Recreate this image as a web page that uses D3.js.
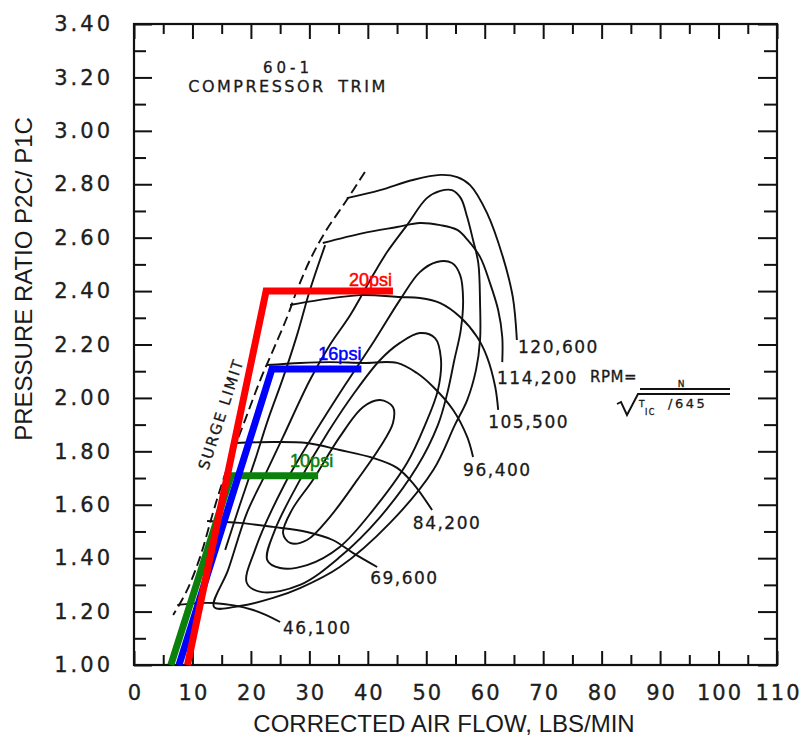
<!DOCTYPE html>
<html>
<head>
<meta charset="utf-8">
<script src="https://cdn.jsdelivr.net/npm/d3@7"></script>
<style>
  body { margin: 0; background: #fff; }
  svg { display: block; }
  .tick text { font-family: "DejaVu Sans", sans-serif; fill: #1e1e1e; stroke: #1e1e1e; stroke-width: 0.35; }
  .tick line { stroke: #111; stroke-width: 2; }
  .map { fill: none; stroke: #111; stroke-width: 1.9; }
  .scan { font-family: "DejaVu Sans", sans-serif; fill: #1a1a1a; stroke: #1a1a1a; stroke-width: 0.3; }
  .title { font-family: "Liberation Sans", Arial, sans-serif; font-size: 24px; fill: #1a1a1a; }
</style>
</head>
<body>
<div id="chart"></div>
<script>
'use strict';

// axis ticks
const xMajor = [0, 10, 20, 30, 40, 50, 60, 70, 80, 90, 100, 110];
const xMinor = [5, 15, 25, 35, 45, 55, 65, 75, 85, 95, 105];
const yMajor = [1.0, 1.2, 1.4, 1.6, 1.8, 2.0, 2.2, 2.4, 2.6, 2.8, 3.0, 3.2, 3.4];
const yMinor = [1.1, 1.3, 1.5, 1.7, 1.9, 2.1, 2.3, 2.5, 2.7, 2.9, 3.1, 3.3];

// surge limit, [flow lbs/min, pressure ratio]
const surgeLine = [[39.5, 2.846], [36.4, 2.741], [32.7, 2.621], [30.1, 2.516], [27.9, 2.404],
    [26.2, 2.303], [23.8, 2.179], [21.6, 2.067], [19.0, 1.917], [16.4, 1.767], [14.7, 1.655],
    [13.5, 1.569], [11.3, 1.404], [9.1, 1.281], [6.7, 1.187]];

// speed lines
const rpmNames = ['46,100', '69,600', '84,200', '96,400', '105,500', '114,200', '120,600'];
const speed46 = [[7.4, 1.225], [13.5, 1.232], [20.4, 1.206], [25.0, 1.161]];
const speed69 = [[12.5, 1.539], [18.1, 1.532], [23.8, 1.517], [29.6, 1.498], [34.0, 1.468],
    [37.5, 1.419], [41.6, 1.367]];
const speed84 = [[17.4, 1.831], [23.8, 1.835], [29.6, 1.831], [35.2, 1.805], [40.9, 1.775],
    [45.0, 1.738], [47.7, 1.681], [51.0, 1.580]];
const speed96 = [[22.7, 2.123], [28.4, 2.131], [33.5, 2.134], [39.2, 2.131], [45.0, 2.131],
    [48.4, 2.093], [51.2, 2.041], [54.6, 1.955], [57.0, 1.854], [58.0, 1.779]];
const speed105 = [[26.7, 2.348], [31.8, 2.367], [38.7, 2.385], [45.5, 2.378], [48.9, 2.374],
    [52.4, 2.355], [55.8, 2.303], [58.7, 2.228], [60.4, 2.153], [61.8, 2.041], [62.3, 1.955]];
const speed114 = [[32.3, 2.580], [39.2, 2.617], [45.0, 2.640], [48.9, 2.655], [52.4, 2.647],
    [55.3, 2.629], [57.1, 2.591], [59.2, 2.528], [60.9, 2.430], [62.3, 2.329], [63.0, 2.228],
    [63.0, 2.134]];
const speed120 = [[36.4, 2.748], [42.1, 2.778], [47.7, 2.816], [52.4, 2.835], [55.3, 2.827],
    [57.5, 2.797], [60.4, 2.692], [63.1, 2.528], [64.8, 2.378], [65.5, 2.217]];
const rpmLabelAt = [[25.5, 1.116], [40.4, 1.303], [47.7, 1.509], [56.3, 1.708],
    [60.6, 1.887], [62.1, 2.052], [65.7, 2.168]];

// efficiency islands
const effInner = [[25.5, 1.494], [27.0, 1.580], [30.6, 1.693], [35.2, 1.854], [39.2, 1.966],
    [42.1, 1.992], [44.3, 1.966], [44.3, 1.906], [42.1, 1.816], [38.2, 1.693], [33.5, 1.554],
    [29.6, 1.468], [26.7, 1.457]];
const effSecond = [[22.8, 1.393], [24.1, 1.505], [28.4, 1.693], [33.2, 1.872], [37.8, 2.022],
    [42.1, 2.142], [45.5, 2.206], [48.9, 2.243], [51.5, 2.224], [52.5, 2.149], [52.0, 2.030],
    [49.8, 1.899], [46.7, 1.756], [40.9, 1.580], [35.2, 1.442], [29.6, 1.374], [25.0, 1.363]];
const effThird = [[19.3, 1.307], [20.7, 1.431], [25.7, 1.674], [31.0, 1.872], [36.1, 2.048],
    [41.2, 2.217], [45.5, 2.367], [48.9, 2.471], [51.8, 2.509], [54.4, 2.505], [55.8, 2.460],
    [56.3, 2.367], [55.9, 2.254], [54.8, 2.142], [53.6, 2.018], [52.0, 1.899], [48.4, 1.741],
    [42.1, 1.554], [35.2, 1.404], [28.4, 1.300], [21.9, 1.273]];
const effOuter = [[13.7, 1.217], [16.1, 1.356], [19.3, 1.569], [22.4, 1.711], [25.5, 1.854],
    [30.1, 2.067], [33.5, 2.198], [37.0, 2.310], [40.9, 2.460], [43.3, 2.546], [46.7, 2.647],
    [50.1, 2.748], [52.4, 2.775], [54.4, 2.778], [55.9, 2.748], [57.0, 2.677], [58.0, 2.591],
    [58.9, 2.505], [59.2, 2.355], [59.2, 2.217], [58.5, 2.104], [57.0, 1.992], [54.9, 1.899],
    [51.2, 1.730], [43.8, 1.532], [35.2, 1.367], [28.4, 1.288], [23.8, 1.251], [18.1, 1.221]];
const effSurgeSide = [[32.7, 2.572], [30.1, 2.404], [27.9, 2.236], [25.5, 2.075], [22.9, 1.917],
    [20.7, 1.767], [18.1, 1.599], [15.6, 1.431]];

// boost lines
const boostNames = ['10psi', '16psi', '20psi'];
const psi10 = [[6.3, 1.0], [16.6, 1.709], [31.5, 1.709]];
const psi16 = [[7.7, 1.0], [23.6, 2.108], [38.9, 2.108]];
const psi20 = [[9.15, 1.0], [22.6, 2.400], [44.3, 2.400]];
const boostColors = ['#0b800b', '#0000ff', '#ff0000'];

const width = 806, height = 738;
const x = d3.scaleLinear().domain([0, 110]).range([134, 777]);
const y = d3.scaleLinear().domain([1.0, 3.4]).range([665, 24]);

const svg = d3.select('#chart')
    .append('svg')
    .attr('width', width)
    .attr('height', height);

svg.append('rect').attr('width', width).attr('height', height).attr('fill', '#fff');

// ticks, all pointing into the frame
function drawAxis(axis, transform) {
    const g = svg.append('g').attr('transform', transform).call(axis);
    g.select('.domain').remove();
    return g;
}

const left = drawAxis(d3.axisLeft(y).tickValues(yMajor).tickSize(-18).tickPadding(21)
    .tickFormat(d3.format('.2f')), `translate(${x(0)},0)`);
left.selectAll('text').attr('font-size', 21).attr('letter-spacing', 3);
drawAxis(d3.axisLeft(y).tickValues(yMinor).tickSize(-12).tickFormat(''), `translate(${x(0)},0)`);
drawAxis(d3.axisRight(y).tickValues(yMajor).tickSize(-19).tickFormat(''), `translate(${x(110)},0)`);
drawAxis(d3.axisRight(y).tickValues(yMinor).tickSize(-13).tickFormat(''), `translate(${x(110)},0)`);

const bottom = drawAxis(d3.axisBottom(x).tickValues(xMajor).tickSize(-14).tickPadding(20),
    `translate(0,${y(1.0)})`);
bottom.selectAll('text').attr('font-size', 21).attr('letter-spacing', 2).attr('dx', '1');
drawAxis(d3.axisBottom(x).tickValues(xMinor).tickSize(-10).tickFormat(''), `translate(0,${y(1.0)})`);
drawAxis(d3.axisTop(x).tickValues(xMajor).tickSize(-15).tickFormat(''), `translate(0,${y(3.4)})`);
drawAxis(d3.axisTop(x).tickValues(xMinor).tickSize(-10).tickFormat(''), `translate(0,${y(3.4)})`);

svg.append('rect')
    .attr('x', x(0)).attr('y', y(3.4))
    .attr('width', x(110) - x(0)).attr('height', y(1.0) - y(3.4))
    .attr('fill', 'none').attr('stroke', '#111').attr('stroke-width', 2.2);

const line = d3.line().x(d => x(d[0])).y(d => y(d[1])).curve(d3.curveCatmullRom.alpha(0.5));
const loop = d3.line().x(d => x(d[0])).y(d => y(d[1])).curve(d3.curveCatmullRomClosed.alpha(0.5));

// efficiency islands
svg.selectAll('path.island')
    .data([effInner, effSecond, effThird, effOuter])
    .enter().append('path')
    .attr('class', 'map island')
    .attr('d', loop);
svg.append('path').attr('class', 'map').attr('d', line(effSurgeSide));

// speed lines and their labels
const speedLines = [speed46, speed69, speed84, speed96, speed105, speed114, speed120];
svg.selectAll('path.speed')
    .data(speedLines)
    .enter().append('path')
    .attr('class', 'map speed')
    .attr('d', line);

svg.selectAll('text.rpm')
    .data(rpmNames)
    .enter().append('text')
    .attr('class', 'scan rpm')
    .attr('x', (d, i) => x(rpmLabelAt[i][0]))
    .attr('y', (d, i) => y(rpmLabelAt[i][1]))
    .attr('font-size', 17)
    .attr('letter-spacing', 1.5)
    .text(d => d);

// surge limit
svg.append('path')
    .attr('class', 'map')
    .attr('stroke-dasharray', '10,5')
    .attr('d', line(surgeLine));

svg.append('text')
    .attr('class', 'scan')
    .attr('transform', 'translate(221,414) rotate(-72)')
    .attr('text-anchor', 'middle')
    .attr('dy', '0.35em')
    .attr('font-size', 15)
    .attr('letter-spacing', 1.8)
    .text('SURGE LIMIT');

// trim title
svg.append('text').attr('class', 'scan')
    .attr('x', 288).attr('y', 73).attr('text-anchor', 'middle')
    .attr('font-size', 15).attr('letter-spacing', 4)
    .text('60-1');
svg.append('text').attr('class', 'scan')
    .attr('x', 288).attr('y', 92).attr('text-anchor', 'middle')
    .attr('font-size', 16).attr('letter-spacing', 2.5).attr('word-spacing', 5)
    .text('COMPRESSOR TRIM');

// RPM = N / sqrt(T1C/645)
const rpm = svg.append('g').attr('transform', 'translate(590,382)');
rpm.append('text').attr('class', 'scan').attr('font-size', 15).attr('letter-spacing', 0.5)
    .text('RPM=');
rpm.append('text').attr('class', 'scan').attr('x', 91).attr('y', 5)
    .attr('text-anchor', 'middle').attr('font-size', 9).text('N');
rpm.append('path').attr('class', 'map').attr('stroke-width', 1.4).attr('d', 'M50,7H140');
rpm.append('path').attr('class', 'map').attr('stroke-width', 1.4)
    .attr('d', 'M27,22L31,20L37,33L48,12H140');
rpm.append('text').attr('class', 'scan').attr('x', 49).attr('y', 25)
    .attr('font-size', 9).text('T');
rpm.append('text').attr('class', 'scan').attr('x', 55).attr('y', 33)
    .attr('font-size', 8).attr('letter-spacing', 1.5).text('IC');
rpm.append('text').attr('class', 'scan').attr('x', 78).attr('y', 26)
    .attr('font-size', 13).attr('letter-spacing', 2.5).text('/645');

// boost lines
const boostLines = [psi10, psi16, psi20];
const boostDx = [15, 0, -1];
const boostDy = [-8.5, -9, -5];
boostLines.forEach((pts, i) => {
    svg.append('path')
        .attr('d', d3.line().x(d => x(d[0])).y(d => y(d[1]))(pts))
        .attr('fill', 'none')
        .attr('stroke', boostColors[i])
        .attr('stroke-width', 7)
        .attr('stroke-linejoin', 'miter');
    const end = pts[pts.length - 1];
    svg.append('text')
        .attr('x', x(end[0]) + boostDx[i])
        .attr('y', y(end[1]) + boostDy[i])
        .attr('text-anchor', 'end')
        .attr('font-family', '"Liberation Sans", Arial, sans-serif')
        .attr('font-size', 18)
        .attr('fill', boostColors[i])
        .attr('stroke', boostColors[i])
        .attr('stroke-width', 0.5)
        .text(boostNames[i]);
});

// axis titles
svg.append('text').attr('class', 'title')
    .attr('transform', 'translate(32,279) rotate(-90)')
    .attr('text-anchor', 'middle')
    .text('PRESSURE RATIO P2C/ P1C');
svg.append('text').attr('class', 'title')
    .attr('x', 444).attr('y', 732)
    .attr('text-anchor', 'middle')
    .text('CORRECTED AIR FLOW, LBS/MIN');
</script>
</body>
</html>
